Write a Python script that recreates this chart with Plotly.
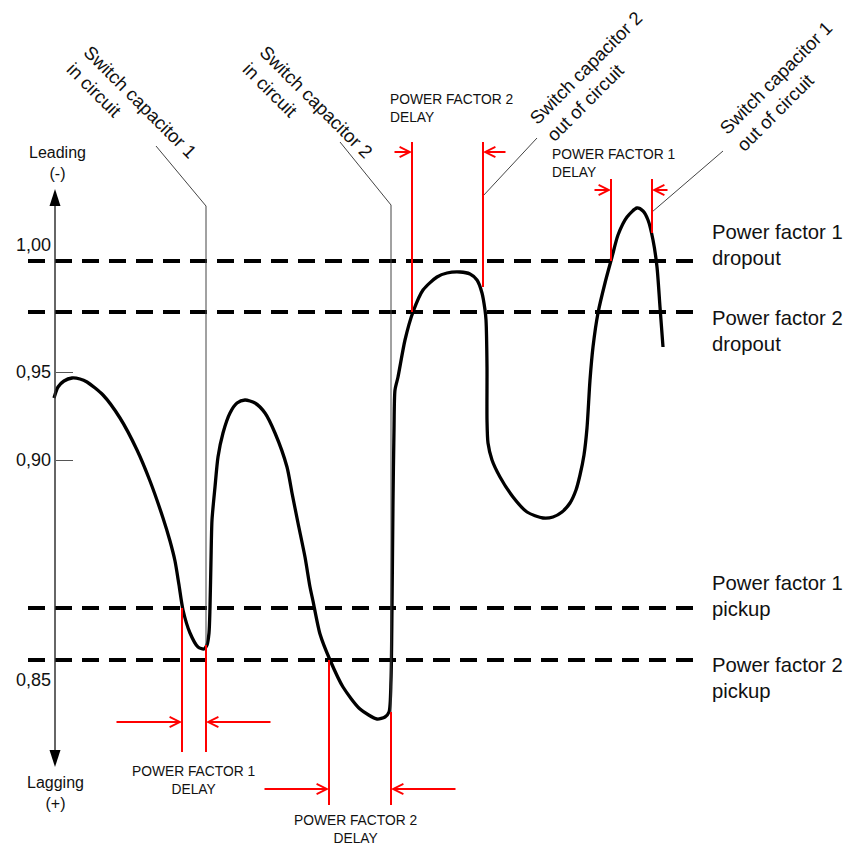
import plotly.graph_objects as go

# ---------------- data (schematic diagram units: x to the right, y downward as drawn) ----------------
curve_x = [54, 58, 64, 72, 80, 87, 103, 120, 137, 150, 163, 170, 175, 179, 183, 190, 198, 204, 207, 209, 210,
           211, 212, 215, 218, 223, 230, 237, 245, 255, 265, 275, 287, 292, 298, 305, 310, 313, 320, 330,
           343, 360, 377, 385, 389, 391, 392, 393, 394, 395, 398, 405, 413, 423, 437, 447, 460, 470, 477,
           482, 485, 486, 487, 487, 488, 492, 500, 513, 527, 543, 553, 562, 570, 576, 580, 584, 587, 590, 593,
           598, 605, 612, 618, 627, 637, 643, 648, 653, 657, 660, 663]
curve_y = [398, 387, 381, 378, 379, 382, 395, 418, 450, 481, 518, 541, 561, 585, 610, 633, 647, 649, 645, 633, 607,
           560, 520, 487, 457, 433, 413, 403, 400, 403, 413, 433, 467, 493, 523, 557, 587, 601, 634, 660,
           687, 709, 719, 717, 712, 680, 609, 501, 430, 390, 377, 340, 312, 290, 277, 273, 272, 274, 280,
           293, 310, 320, 367, 420, 443, 460, 477, 497, 512, 518, 517, 512, 503, 490, 475, 455, 428, 380, 347,
           313, 283, 257, 235, 217, 208, 211, 220, 240, 267, 307, 347]

tick_labels = ["1,00", "0,95", "0,90", "0,85"]
tick_y = [245, 372, 460, 680]
tick_mark_y = [372, 460]

threshold_labels = ["Power factor 1<br>dropout", "Power factor 2<br>dropout",
                    "Power factor 1<br>pickup", "Power factor 2<br>pickup"]
threshold_y = [261, 312, 608, 660]

switch_labels = ["Switch capacitor 1<br>in circuit", "Switch capacitor 2<br>in circuit",
                 "Switch capacitor 2<br>out of circuit", "Switch capacitor 1<br>out of circuit"]
switch_x = [206, 391, 483, 652]          # instant the capacitor is switched
switch_curve_y = [645, 712, 287, 233]    # curve level at that instant

delay_labels = ["POWER FACTOR 1<br>DELAY", "POWER FACTOR 2<br>DELAY",
                "POWER FACTOR 2<br>DELAY", "POWER FACTOR 1<br>DELAY"]
delay_start_x = [182, 329, 412, 611]     # threshold crossing
delay_start_y = [608, 660, 312, 261]

axis_labels = ["Leading<br>(-)", "Lagging<br>(+)"]

# ---------------- layout / style ----------------
PAGE_W, PAGE_H, BODY_MARGIN = 852, 845, 8
W, H = PAGE_W - BODY_MARGIN, PAGE_H - BODY_MARGIN
FONT = "Liberation Sans, Arial, Helvetica, sans-serif"
RED = "#ff0000"
axis_x, axis_top, axis_bottom = 55, 189, 767

bar_end_y = [752, 805, 142, 179]
arrow_y = [722, 789, 152, 190]
arrow_out = [(67, 66), (66, 66), (19, 24), (18, 17)]
delay_label_pos = [(193, 780, "center"), (355, 829, "center"), (388, 108, "left"), (550, 163, "left")]

switch_label_pos = [(132, 110, 45), (308, 110, 45), (594, 76, -45), (784, 86, -45)]
leader_start = [(156, 146), (340, 142), (537, 138), (723, 151)]
leader_knee_y = [206, 205, 196, 212]

threshold_label_y = [245, 331, 596, 678]

fig = go.Figure()

# curve
fig.add_trace(go.Scatter(x=curve_x, y=curve_y, mode="lines",
                         line=dict(color="black", width=3.3, shape="spline", smoothing=0.7),
                         hoverinfo="skip", showlegend=False))

shapes = []
annotations = []

# thresholds (dashed)
for ty, lab, ly in zip(threshold_y, threshold_labels, threshold_label_y):
    shapes.append(dict(type="line", x0=28, x1=703, y0=ty, y1=ty, xref="x", yref="y",
                       line=dict(color="black", width=4, dash="17px,10px"), layer="below"))
    annotations.append(dict(x=710, y=ly, xref="x", yref="y", text=lab, showarrow=False,
                            xanchor="left", yanchor="middle", align="left",
                            font=dict(family=FONT, size=20.3, color="#111")))

# axis line and arrow heads
shapes.append(dict(type="line", x0=axis_x, x1=axis_x, y0=axis_top + 15, y1=axis_bottom - 15,
                   xref="x", yref="y", line=dict(color="#333", width=1.5)))
shapes.append(dict(type="path", xref="x", yref="y", fillcolor="black", line=dict(width=0),
                   path=f"M {axis_x},{axis_top} L {axis_x-5.5},{axis_top+17} L {axis_x+5.5},{axis_top+17} Z"))
shapes.append(dict(type="path", xref="x", yref="y", fillcolor="black", line=dict(width=0),
                   path=f"M {axis_x},{axis_bottom} L {axis_x-5.5},{axis_bottom-17} L {axis_x+5.5},{axis_bottom-17} Z"))
annotations.append(dict(x=57, y=163, xref="x", yref="y", text=axis_labels[0], showarrow=False,
                        font=dict(family=FONT, size=16, color="#111")))
annotations.append(dict(x=55, y=793, xref="x", yref="y", text=axis_labels[1], showarrow=False,
                        font=dict(family=FONT, size=16, color="#111")))

# switching leaders and labels
for i in range(4):
    sx, sy = switch_x[i], switch_curve_y[i]
    lx, ly = leader_start[i]
    ky = leader_knee_y[i]
    if i < 2:
        p = f"M {lx},{ly} L {sx},{ky} L {sx},{sy}"
    else:
        p = f"M {lx},{ly} L {sx},{ky}"
    shapes.append(dict(type="path", path=p, xref="x", yref="y", line=dict(color="#444", width=1)))
    cx, cy, ang = switch_label_pos[i]
    annotations.append(dict(x=cx, y=cy, xref="x", yref="y", text=switch_labels[i], showarrow=False,
                            textangle=ang, align="left", xanchor="center", yanchor="middle",
                            font=dict(family=FONT, size=18.5, color="#111")))

# delays (red)
for i in range(4):
    x0, y0 = delay_start_x[i], delay_start_y[i]
    x1, y1 = switch_x[i], switch_curve_y[i]
    be = bar_end_y[i]
    shapes.append(dict(type="line", x0=x0, x1=x0, y0=y0, y1=be, xref="x", yref="y",
                       line=dict(color=RED, width=2)))
    shapes.append(dict(type="line", x0=x1, x1=x1, y0=y1, y1=be, xref="x", yref="y",
                       line=dict(color=RED, width=2)))
    ay = arrow_y[i]
    lo, ro = arrow_out[i]
    annotations.append(dict(x=x0, y=ay, ax=x0 - lo, ay=ay, xref="x", yref="y", axref="x", ayref="y",
                            text="", showarrow=True, arrowhead=5, arrowsize=1, arrowwidth=2,
                            arrowcolor=RED, standoff=0))
    annotations.append(dict(x=x1, y=ay, ax=x1 + ro, ay=ay, xref="x", yref="y", axref="x", ayref="y",
                            text="", showarrow=True, arrowhead=5, arrowsize=1, arrowwidth=2,
                            arrowcolor=RED, standoff=0))
    tx, ty, al = delay_label_pos[i]
    annotations.append(dict(x=tx, y=ty, xref="x", yref="y", text=delay_labels[i], showarrow=False,
                            xanchor="center" if al == "center" else "left", yanchor="middle", align=al,
                            font=dict(family=FONT, size=13.8, color="#111")))

fig.update_layout(
    width=W, height=H,
    margin=dict(l=0, r=0, t=0, b=0),
    paper_bgcolor="white", plot_bgcolor="white",
    showlegend=False,
    shapes=shapes, annotations=annotations,
    # the page body adds an 8px margin, so the ranges start at 8 to keep diagram units = page pixels
    xaxis=dict(range=[BODY_MARGIN, PAGE_W], visible=False, fixedrange=True),
    yaxis=dict(range=[PAGE_H, BODY_MARGIN], anchor="free", position=(axis_x - BODY_MARGIN) / W, side="left",
               showgrid=False, zeroline=False, showline=False,
               tickmode="array", tickvals=tick_y, ticktext=tick_labels, ticks="",
               ticklabelstandoff=4,
               tickfont=dict(family=FONT, size=18, color="#111"),
               minor=dict(tickmode="array", tickvals=tick_mark_y, ticks="inside",
                          ticklen=17, tickwidth=1, tickcolor="#555"),
               fixedrange=True),
)

fig.write_html("out.html")
